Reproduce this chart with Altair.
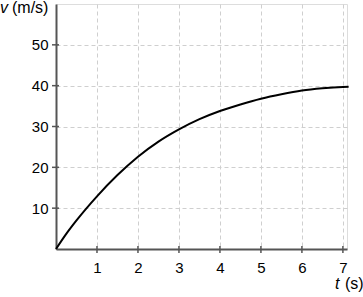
import altair as alt
import pandas as pd

# data
t_vals = [0, 0.25, 0.5, 1, 1.5, 2, 2.5, 3, 3.5, 4, 4.5, 5, 5.5, 6, 6.5, 7, 7.14]
v_vals = [0, 3.7, 7.0, 12.9, 18.1, 22.6, 26.3, 29.3, 31.8, 33.8, 35.4, 36.8, 37.9, 38.8, 39.35, 39.7, 39.75]
x_ticks = [1, 2, 3, 4, 5, 6, 7]
y_ticks = [10, 20, 30, 40, 50]

df = pd.DataFrame({"t": t_vals, "v": v_vals})
FONT = "Liberation Sans"
AX = "#555555"
H = 245

x_scale = alt.Scale(domain=[0, 7.1], nice=False, zero=True)
y_scale = alt.Scale(domain=[0, 60], nice=False)

line = alt.Chart(df).mark_line(color="black", strokeWidth=2, interpolate="monotone", clip=False).encode(
    x=alt.X("t:Q", scale=x_scale,
            axis=alt.Axis(values=x_ticks, title=None, grid=True, gridDash=[4, 3], gridColor="#cfcfcf",
                          gridWidth=1, domainColor=AX, domainWidth=2, ticks=False,
                          labelPadding=11, labelFontSize=15, labelFont=FONT, labelColor="black")),
    y=alt.Y("v:Q", scale=y_scale,
            axis=alt.Axis(values=y_ticks, title=None, grid=True, gridDash=[4, 3], gridColor="#cfcfcf",
                          gridWidth=1, domainColor=AX, domainWidth=2, ticks=False,
                          labelPadding=8, labelFontSize=15, labelFont=FONT, labelColor="black")),
)

xt = alt.Chart(pd.DataFrame({"t": x_ticks})).mark_rule(color=AX, strokeWidth=1.5).encode(
    x=alt.X("t:Q", scale=x_scale), y=alt.value(H - 3), y2=alt.value(H + 4))
yt = alt.Chart(pd.DataFrame({"v": y_ticks})).mark_rule(color=AX, strokeWidth=1.5).encode(
    y=alt.Y("v:Q", scale=y_scale), x=alt.value(-4), x2=alt.value(3))

base = alt.Chart(pd.DataFrame({"a": [0]}))
v_lab = base.mark_text(text="v", fontStyle="italic", fontSize=16, font=FONT, align="left",
                       baseline="alphabetic", clip=False).encode(x=alt.value(-56), y=alt.value(9))
v_unit = base.mark_text(text="(m/s)", fontSize=16, font=FONT, align="left",
                        baseline="alphabetic", clip=False).encode(x=alt.value(-44), y=alt.value(9))
t_lab = base.mark_text(text="t", fontStyle="italic", fontSize=16, font=FONT, align="left",
                       baseline="alphabetic", clip=False).encode(x=alt.value(279), y=alt.value(285))
t_unit = base.mark_text(text="(s)", fontSize=16, font=FONT, align="left",
                        baseline="alphabetic", clip=False).encode(x=alt.value(289), y=alt.value(285))

chart = alt.layer(line, xt, yt, v_lab, v_unit, t_lab, t_unit).properties(
    width=291, height=H,
    autosize=alt.AutoSizeParams(type="none"),
    padding={"left": 56, "top": 4, "right": 16, "bottom": 48},
).configure_view(stroke=None).configure(background="white")

chart.save("out.html", embed_options={"renderer": "svg", "actions": False})
